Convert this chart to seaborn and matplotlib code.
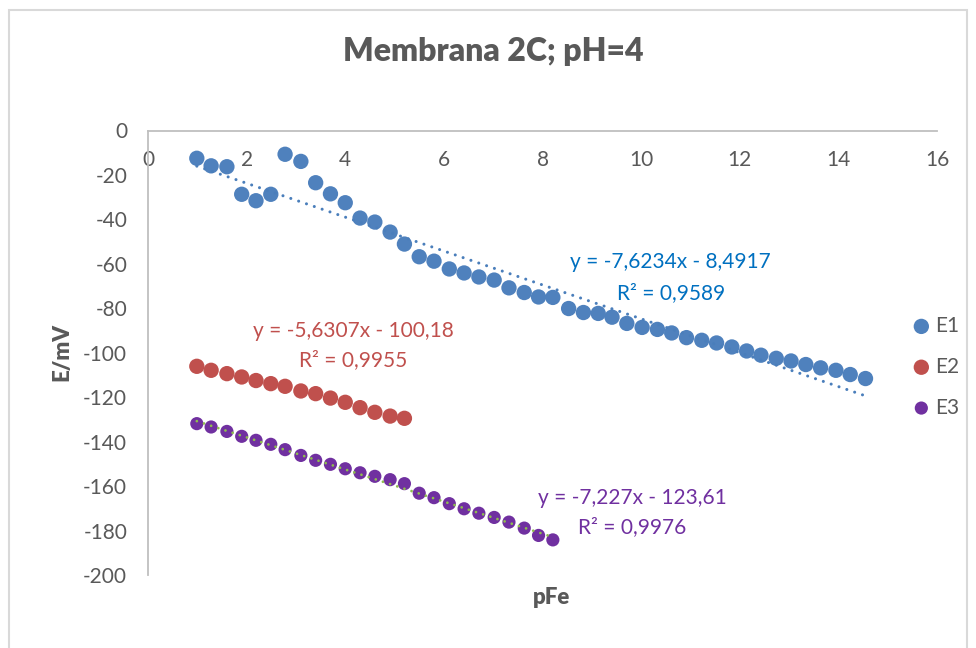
import numpy as np
import pandas as pd
import matplotlib
matplotlib.use("Agg")
import matplotlib.pyplot as plt
import seaborn as sns
from matplotlib.patches import Rectangle

# values
x_e1 = [0.99, 1.28, 1.60, 1.90, 2.19, 2.49, 2.78, 3.10, 3.40, 3.70, 4.00, 4.30, 4.60, 4.91, 5.20,
        5.50, 5.80, 6.11, 6.41, 6.71, 7.02, 7.32, 7.63, 7.92, 8.21, 8.53, 8.83, 9.13, 9.41, 9.71,
        10.02, 10.33, 10.62, 10.92, 11.23, 11.53, 11.84, 12.14, 12.43, 12.74, 13.04, 13.34, 13.64,
        13.95, 14.24, 14.55]
y_e1 = [-12.5, -15.9, -16.3, -28.7, -31.6, -28.7, -10.7, -13.9, -23.5, -28.5, -32.5, -39.4, -41.2,
        -45.7, -51.1, -56.8, -58.8, -62.3, -64.1, -65.9, -67.3, -70.8, -72.9, -74.9, -75.1, -80.1,
        -81.9, -82.3, -84.0, -86.8, -88.6, -89.5, -91.1, -93.2, -94.4, -95.6, -97.4, -99.2, -101.1,
        -102.5, -103.7, -105.3, -106.8, -107.9, -109.8, -111.6]

x_e2 = [0.99, 1.28, 1.60, 1.90, 2.19, 2.49, 2.78, 3.10, 3.40, 3.70, 4.00, 4.30, 4.60, 4.91, 5.20]
y_e2 = [-106.1, -107.9, -109.4, -110.9, -112.5, -113.9, -115.1, -117.2, -118.4, -120.4, -122.3,
        -124.7, -126.8, -128.5, -129.5]

x_e3 = [0.99, 1.28, 1.60, 1.90, 2.19, 2.49, 2.78, 3.10, 3.40, 3.70, 4.00, 4.30, 4.60, 4.91, 5.20,
        5.50, 5.80, 6.11, 6.41, 6.71, 7.02, 7.32, 7.63, 7.92, 8.21]
y_e3 = [-131.9, -133.4, -135.4, -137.6, -139.4, -141.2, -143.6, -146.2, -148.4, -150.2, -152.2,
        -154.0, -155.6, -157.1, -158.9, -163.2, -165.2, -167.9, -170.2, -172.2, -174.1, -176.2,
        -178.9, -182.2, -184.2]

# trendline coefficients as printed on the chart
fit_e1 = (-7.6234, -8.4917)
fit_e3 = (-7.227, -123.61)

sns.set_theme(style="white")
plt.rcParams['font.family'] = ['Lato', 'DejaVu Sans']
plt.rcParams['axes.unicode_minus'] = False

grey = "#595959"
c1, c2, c3 = "#4f81bd", "#c0504d", "#7030a0"

fig = plt.figure(figsize=(9.76, 6.48), dpi=100)
fig.patch.set_facecolor("white")
fig.patches.append(Rectangle((9 / 976, -0.02), 958 / 976, 1 - 10 / 648 + 0.02,
                             transform=fig.transFigure, fill=False,
                             edgecolor="#d9d9d9", linewidth=1.5))

ax = fig.add_axes([148 / 976, 1 - 575 / 648, 789 / 976, 444.5 / 648])

sns.scatterplot(x=x_e1, y=y_e1, color=c1, s=122, edgecolor="none", label="E1", ax=ax, zorder=3)
sns.scatterplot(x=x_e2, y=y_e2, color=c2, s=122, edgecolor="none", label="E2", ax=ax, zorder=3)
sns.scatterplot(x=x_e3, y=y_e3, color=c3, s=90, edgecolor="none", label="E3", ax=ax, zorder=3)

# dotted linear trendlines
xs1 = np.array([x_e1[0], x_e1[-1]])
ax.plot(xs1, fit_e1[0] * xs1 + fit_e1[1], color="#4a7ebb", lw=2.2,
        linestyle=(0, (0.01, 2.7)), dash_capstyle="round", zorder=4)
xs3 = np.array([x_e3[0], x_e3[-1]])
ax.plot(xs3, fit_e3[0] * xs3 + fit_e3[1], color="#8fbc4f", lw=2.0,
        linestyle=(0, (0.01, 2.7)), dash_capstyle="round", zorder=4)

lab_fs = 15
ax.text(10.6, -59.1, "y = -7,6234x - 8,4917", color="#0070c0", fontsize=lab_fs, ha="center", va="center")
ax.text(10.6, -73.1, "R² = 0,9589", color="#0070c0", fontsize=lab_fs, ha="center", va="center")
ax.text(4.16, -90.2, "y = -5,6307x - 100,18", color=c2, fontsize=lab_fs, ha="center", va="center")
ax.text(4.16, -103.1, "R² = 0,9955", color=c2, fontsize=lab_fs, ha="center", va="center")
ax.text(9.82, -165.5, "y = -7,227x - 123,61", color=c3, fontsize=lab_fs, ha="center", va="center")
ax.text(9.82, -178.6, "R² = 0,9976", color=c3, fontsize=lab_fs, ha="center", va="center")

ax.set_xlim(0, 16)
ax.set_ylim(-200, 0)
ax.set_xticks(range(0, 17, 2))
ax.set_yticks(range(-200, 1, 20))
ax.set_xlabel("")
ax.set_ylabel("")

ax.spines["bottom"].set_position(("data", 0))
ax.spines["top"].set_visible(False)
ax.spines["right"].set_visible(False)
for sp in ["bottom", "left"]:
    ax.spines[sp].set_color("#bfbfbf")
    ax.spines[sp].set_linewidth(1.3)
ax.tick_params(axis="x", length=0, pad=14, labelsize=15, labelcolor=grey)
ax.tick_params(axis="y", length=0, pad=15, labelsize=15, labelcolor=grey)

handles, labels = ax.get_legend_handles_labels()
ax.get_legend().remove()
leg = fig.legend(handles, labels, loc="center left", bbox_to_anchor=(913 / 976, 1 - 366.7 / 648),
                 frameon=False, fontsize=15, handlelength=0.8, handletextpad=0.25,
                 labelspacing=1.0, borderpad=0, borderaxespad=0)
for t in leg.get_texts():
    t.set_color(grey)

fig.text(493.5 / 976, 1 - 51.7 / 648, "Membrana 2C; pH=4", fontsize=23, fontweight="heavy",
         color=grey, ha="center", va="center")
fig.text(62 / 976, 1 - 352 / 648, "E/mV", fontsize=16, fontweight="heavy", color=grey,
         rotation=90, ha="center", va="center")
fig.text(551 / 976, 1 - 598 / 648, "pFe", fontsize=16, fontweight="heavy", color=grey,
         ha="center", va="center")

fig.savefig("out.png", dpi=100, facecolor="white")
